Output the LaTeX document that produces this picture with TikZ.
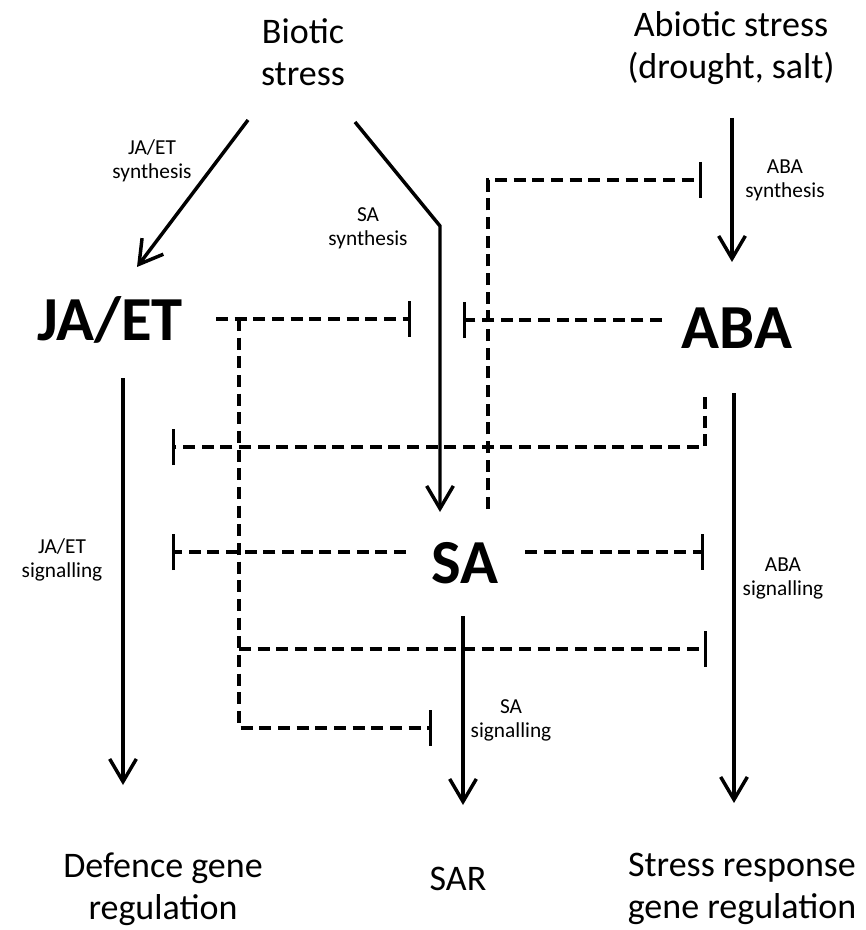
\documentclass[tikz,border=0pt]{standalone}
\usepackage{fontspec}
\setmainfont{Carlito}
\usetikzlibrary{arrows.meta}

\begin{document}
\begin{tikzpicture}[x=0.75pt,y=-0.75pt]
  % Styles
  \tikzset{
    fl/.style={line width=2.6pt, -{Straight Barb[length=17pt,width=20pt]}},
    inh/.style={line width=2.6pt, dash pattern=on 9pt off 5pt, -{Bar[width=27pt]}},
    grand/.style={font=\fontsize{47}{50}\selectfont\bfseries, anchor=base, inner sep=0pt},
    moyen/.style={font=\fontsize{27}{31.5}\selectfont, align=center, inner sep=0pt},
    petit/.style={font=\fontsize{16}{18}\selectfont, align=center, inner sep=0pt},
  }

  % Cadre
  \useasboundingbox (0,0) rectangle (865,930);

  % Stress
  \node[moyen] (biotic) at (303,52) {Biotic\\stress};
  \node[moyen] (abiotic) at (731,48) {Abiotic stress\\(drought, salt)};

  % Hormones
  \node[grand] (jaet) at (110,340) {JA/ET};
  \node[grand] (aba) at (737,348) {ABA};
  \node[grand] (sa) at (465,583) {SA};

  % Reponses
  \node[moyen] (defence) at (163,889) {Defence gene\\regulation};
  \node[moyen, anchor=base] (sar) at (458,890) {SAR};
  \node[moyen] (stressresp) at (742,889) {Stress response\\gene regulation};

  % Etiquettes
  \node[petit] (jaetsyn) at (152,161) {JA/ET\\synthesis};
  \node[petit] (sasyn) at (368,228) {SA\\synthesis};
  \node[petit] (abasyn) at (785,180) {ABA\\synthesis};
  \node[petit] (jaetsig) at (62,560) {JA/ET\\signalling};
  \node[petit] (sasig) at (511,720) {SA\\signalling};
  \node[petit] (abasig) at (783,578) {ABA\\signalling};

  % Points de passage
  \foreach \n/\x/\y in {
    bio1/248/120, jaetin/137/267,
    bio2/355/122, sacoude/440/226, sain/440/512,
    abio/732/118, abain/732/262,
    jaetout/123/378, defin/123/785,
    saout/463/616, sarin/463/805,
    abaout/734/393, stressin/734/803,
    jaeth/216/319, jaetT/411/319,
    abah/662/320, abaT/463/320,
    jaetcoude/239/319, jaetbas/239/728, saT3/432/728,
    jaetmid/239/649, abaT2/707/649,
    sah/488/509, sacoude2/488/180, abasynT/702/180,
    abab/705/397, abacoude/705/447, jaetT2/172/447,
    sag/406/552, saT1/172/552,
    sad/525/552, saT2/704/552
  }
    \coordinate (\n) at (\x,\y);

  % Synthese
  \draw[fl] (bio1) -- (jaetin);
  \draw[fl] (bio2) -- (sacoude) -- (sain);
  \draw[fl] (abio) -- (abain);

  % Signalisation
  \draw[fl] (jaetout) -- (defin);
  \draw[fl] (saout) -- (sarin);
  \draw[fl] (abaout) -- (stressin);

  % Inhibitions
  \draw[inh] (jaeth) -- (jaetT);
  \draw[inh] (abah) -- (abaT);
  \draw[inh] (jaetcoude) -- (jaetbas) -- (saT3);
  \draw[inh] (jaetmid) -- (abaT2);
  \draw[inh] (sah) -- (sacoude2) -- (abasynT);
  \draw[inh] (abab) -- (abacoude) -- (jaetT2);
  \draw[inh] (sag) -- (saT1);
  \draw[inh] (sad) -- (saT2);

\end{tikzpicture}
\end{document}
